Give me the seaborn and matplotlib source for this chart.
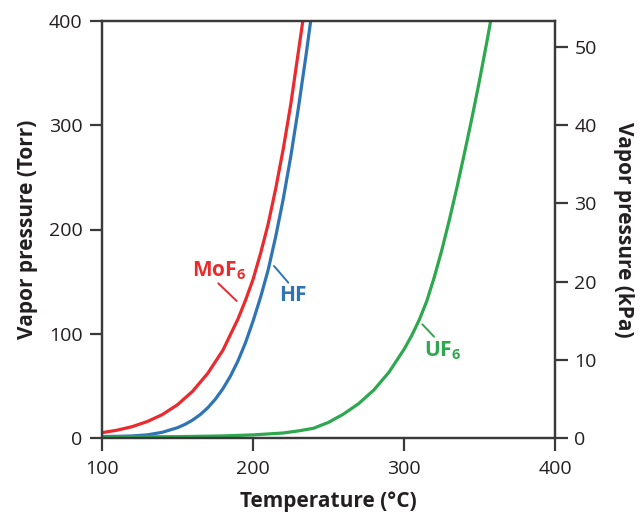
import matplotlib
matplotlib.use("Agg")
import matplotlib.pyplot as plt
import seaborn as sns
import pandas as pd

# Vapor pressure (Torr) versus temperature (°C)
mof6_temp = [100, 110, 120, 130, 140, 150, 160, 170, 180, 190, 195, 200, 205,
             210, 215, 220, 225, 230, 233]
mof6_torr = [5.1, 7.5, 10.9, 15.8, 22.5, 31.9, 44.8, 62, 84, 114, 132, 152, 177,
             205, 239, 277, 320, 370, 400]

hf_temp = [100, 110, 120, 130, 140, 150, 155, 160, 165, 170, 175, 180, 185, 190,
           195, 200, 205, 210, 215, 220, 225, 230, 235, 238.2]
hf_torr = [1.5, 1.6, 2, 3, 5.5, 9.9, 13.1, 17.2, 22.4, 28.9, 37.1, 47.1, 59.2, 73.8,
           91.3, 112, 135, 161, 193, 229, 270, 316, 366, 400]

uf6_temp = [100, 150, 180, 200, 220, 230, 240, 250, 260, 270, 280, 290, 300, 305,
            310, 315, 320, 325, 330, 335, 340, 345, 350, 355, 358]
uf6_torr = [1, 1.3, 2, 3, 4.8, 6.8, 9.3, 15, 23, 33, 46, 63, 85, 98,
            113, 131, 154, 180, 209, 240, 273, 307, 343, 381, 405]

compounds = ["MoF6", "HF", "UF6"]
colors = {"MoF6": "#ea2a2c", "HF": "#2f75b6", "UF6": "#2ea84e"}

x_ticks = [100, 200, 300, 400]
torr_ticks = [0, 100, 200, 300, 400]
kpa_ticks = [0, 10, 20, 30, 40, 50]
TORR_PER_KPA = 7.50062

df = pd.concat([
    pd.DataFrame({"temp": mof6_temp, "torr": mof6_torr, "compound": "MoF6"}),
    pd.DataFrame({"temp": hf_temp, "torr": hf_torr, "compound": "HF"}),
    pd.DataFrame({"temp": uf6_temp, "torr": uf6_torr, "compound": "UF6"}),
], ignore_index=True)

sns.set_theme(style="white")
plt.rcParams["font.family"] = ["Open Sans", "DejaVu Sans"]
plt.rcParams["mathtext.fontset"] = "custom"
plt.rcParams["mathtext.rm"] = "Open Sans"
plt.rcParams["mathtext.bf"] = "Open Sans:bold"

spine_color = "#3a3a3a"
text_color = "#231f20"

fig = plt.figure(figsize=(6.41, 5.18), dpi=100)
ax = fig.add_axes([102 / 641, 1 - 438 / 518, 453 / 641, 417 / 518])

sns.lineplot(data=df, x="temp", y="torr", hue="compound", hue_order=compounds,
             palette=colors, estimator=None, sort=False, linewidth=2.3,
             legend=False, ax=ax)

ax.set_xlim(100, 400)
ax.set_ylim(0, 400)
ax.set_xticks(x_ticks)
ax.set_yticks(torr_ticks)

ax2 = ax.twinx()
ax2.set_ylim(0, 400 / TORR_PER_KPA)
ax2.set_yticks(kpa_ticks)

for a in (ax, ax2):
    for s in a.spines.values():
        s.set_color(spine_color)
        s.set_linewidth(1.6)
    a.tick_params(direction="out", length=9, width=1.6, color=spine_color,
                  labelsize=14, labelcolor=text_color, pad=5)
ax.tick_params(axis="x", pad=7)
ax.tick_params(left=True, bottom=True)
ax2.tick_params(right=True)

lab_kw = dict(fontsize=15, fontweight="bold", color=text_color)
ax.set_xlabel("Temperature (°C)", labelpad=9, **lab_kw)
ax.set_ylabel("Vapor pressure (Torr)", labelpad=8, **lab_kw)
ax2.set_ylabel("Vapor pressure (kPa)", rotation=270, labelpad=27, **lab_kw)

# Curve labels with short leader lines
lbl_kw = dict(fontsize=15, fontweight="bold", ha="center", va="center")
ax.text(177.5, 160, r"MoF$_\mathbf{6}$", color=colors["MoF6"], **lbl_kw)
ax.plot([177.0, 189.2], [148.4, 131.4], color=colors["MoF6"], lw=1.4)
ax.text(226.5, 137, "HF", color=colors["HF"], **lbl_kw)
ax.plot([213.9, 223.4], [165.0, 149.0], color=colors["HF"], lw=1.4)
ax.text(325.2, 84, r"UF$_\mathbf{6}$", color=colors["UF6"], **lbl_kw)
ax.plot([312.1, 319.9], [109.1, 97.2], color=colors["UF6"], lw=1.4)

fig.savefig("out.png", dpi=100)
